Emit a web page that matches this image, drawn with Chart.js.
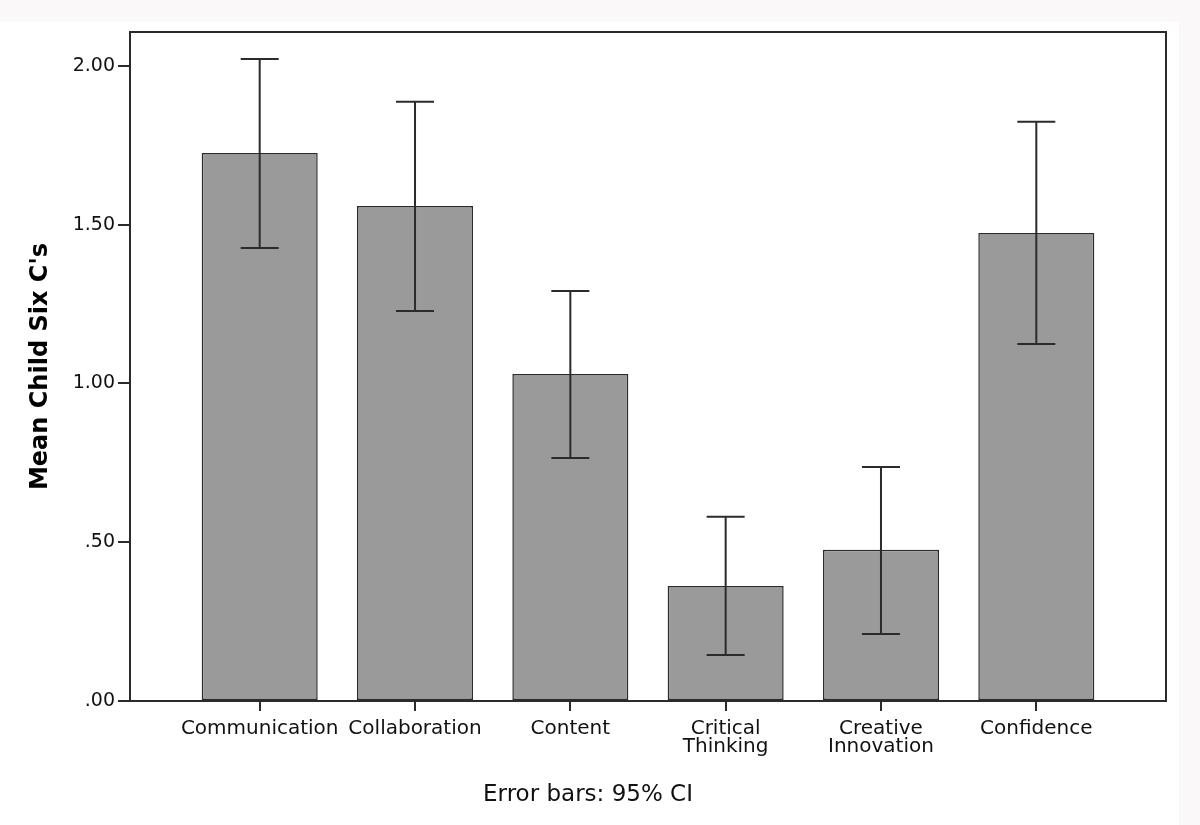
<!DOCTYPE html>
<html>
<head>
<meta charset="utf-8">
<script src="https://cdn.jsdelivr.net/npm/chart.js@4"></script>
<style>
  html, body { margin: 0; padding: 0; background: #ffffff; }
  #c { display: block; }
</style>
</head>
<body>
<canvas id="c" width="1200" height="825"></canvas>
<script>
const categories = ["Communication", "Collaboration", "Content", ["Critical", "Thinking"], ["Creative", "Innovation"], "Confidence"];
const means = [1.726, 1.559, 1.030, 0.362, 0.476, 1.474];
const ciLower = [1.427, 1.228, 0.765, 0.145, 0.211, 1.124];
const ciUpper = [2.022, 1.887, 1.291, 0.580, 0.737, 1.824];
const yTicks = [0, 0.5, 1.0, 1.5, 2.0];
const yTitle = "Mean Child Six C's";
const footnote = "Error bars: 95% CI";

const FONT = "'DejaVu Sans', sans-serif";
const INK = '#111111';

const backdrop = {
  id: 'backdrop',
  beforeDraw(chart) {
    const ctx = chart.ctx;
    ctx.save();
    ctx.fillStyle = '#ffffff';
    ctx.fillRect(0, 0, chart.width, chart.height);
    ctx.fillStyle = '#faf8f8';
    ctx.fillRect(0, 0, chart.width, 22);
    ctx.fillRect(1179, 0, chart.width - 1179, chart.height);
    ctx.restore();
  }
};

const frame = {
  id: 'frame',
  afterDraw(chart) {
    const {ctx, chartArea: a} = chart;
    ctx.save();
    ctx.strokeStyle = '#2b2b2b';
    ctx.lineWidth = 2;
    ctx.strokeRect(a.left, a.top, a.right - a.left, a.bottom - a.top);
    ctx.restore();
  }
};

const errorBars = {
  id: 'errorBars',
  afterDatasetsDraw(chart) {
    const ctx = chart.ctx;
    const xs = chart.scales.x, ys = chart.scales.y;
    ctx.save();
    ctx.strokeStyle = '#2b2b2b';
    ctx.lineWidth = 2;
    const cap = 19;
    means.forEach((m, i) => {
      const x = xs.getPixelForValue(i);
      const yl = ys.getPixelForValue(ciLower[i]);
      const yu = ys.getPixelForValue(ciUpper[i]);
      ctx.beginPath();
      ctx.moveTo(x, yl); ctx.lineTo(x, yu);
      ctx.moveTo(x - cap, yu); ctx.lineTo(x + cap, yu);
      ctx.moveTo(x - cap, yl); ctx.lineTo(x + cap, yl);
      ctx.stroke();
    });
    ctx.restore();
  }
};

new Chart(document.getElementById('c'), {
  type: 'bar',
  data: {
    datasets: [{
      data: means.map((v, i) => ({x: i, y: v})),
      backgroundColor: '#9a9a9a',
      borderColor: '#2b2b2b',
      borderWidth: 1.5,
      borderSkipped: false,
      categoryPercentage: 1,
      barPercentage: 0.747
    }]
  },
  options: {
    responsive: false,
    animation: false,
    layout: { padding: { left: 10, top: 32, right: 34, bottom: 0 } },
    plugins: {
      legend: { display: false },
      tooltip: { enabled: false },
      title: {
        display: true,
        position: 'bottom',
        text: footnote,
        color: INK,
        font: { family: FONT, size: 23, weight: 'normal', lineHeight: 1.2 },
        padding: { top: 0, bottom: 16 }
      }
    },
    scales: {
      x: {
        type: 'linear',
        offset: false,
        min: -0.835,
        max: 5.835,
        afterBuildTicks(s) { s.ticks = categories.map((_, i) => ({value: i})); },
        afterFit(s) { s.height = 80.4; },
        ticks: {
          autoSkip: false,
          maxRotation: 0,
          color: INK,
          padding: 8,
          font: { family: FONT, size: 20, lineHeight: 0.93 },
          callback: (v) => categories[v]
        },
        grid: { offset: false, drawOnChartArea: false, drawTicks: true, tickLength: 10, color: '#2b2b2b', lineWidth: 2 },
        border: { display: false }
      },
      y: {
        min: 0,
        max: 2.107,
        afterBuildTicks(s) { s.ticks = yTicks.map(v => ({value: v})); },
        afterFit(s) { s.width = 120; },
        ticks: {
          color: INK,
          padding: 3,
          font: { family: FONT, size: 19 },
          callback: (v) => v.toFixed(2).replace(/^0/, '')
        },
        grid: { drawOnChartArea: false, drawTicks: true, tickLength: 12, color: '#2b2b2b', lineWidth: 2 },
        border: { display: false },
        title: {
          display: true,
          text: yTitle,
          color: '#000000',
          font: { family: FONT, size: 24, weight: 'bold' },
          padding: { top: 16, bottom: 0 }
        }
      }
    }
  },
  plugins: [backdrop, errorBars, frame]
});
</script>
</body>
</html>
